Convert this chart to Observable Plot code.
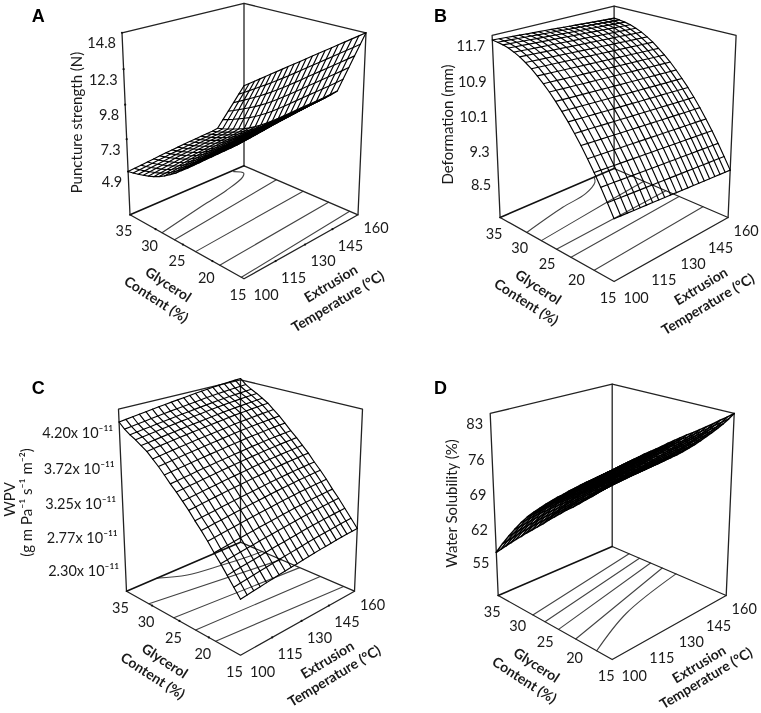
<!DOCTYPE html>
<html>
<head>
<meta charset="utf-8">
<style>html,body{margin:0;padding:0;background:#fff}svg{display:block}</style>
<script src="https://cdn.jsdelivr.net/npm/d3@7"></script>
<script src="https://cdn.jsdelivr.net/npm/@observablehq/plot@0.6"></script>
</head>
<body>
<div id="chart"></div>
<script>
// Design levels of the response surfaces
const gridGlycerol = [35,34,33,32,31,30,29,28,27,26,25,24,23,22,21,20,19,18,17,16,15];
const gridTemp = [100,103,106,109,112,115,118,121,124,127,130,133,136,139,142,145,148,151,154,157,160];
const glyTicks = [35,30,25,20,15];
const tempTicks = [100,115,130,145,160];

// Surface readings: response along glycerol at 100 °C, change along temperature, temperature effect gain per glycerol level
const punctureByGly = [4.9,4.98,5.08,5.2,5.33,5.48,5.68,5.92,6.2,6.5,6.85,7.2,7.57,7.95,8.33,8.7,9.07,9.44,9.81,10.2,10.6];
const punctureByTemp = [0,.06,.12,.18,.24,.3,.36,.41,.46,.51,.56,.6,.64,.68,.72,.8,1.4,2,2.6,3.2,3.8];
const punctureGain = [.895,.959,1.018,1.072,1.124,1.17,1.203,1.225,1.237,1.243,1.237,1.23,1.218,1.204,1.189,1.178,1.166,1.154,1.142,1.125,1.105];
const punctureTicks = [14.8,12.3,9.8,7.3,4.9];

const deformByGly = [11.6,11.59,11.57,11.54,11.49,11.43,11.35,11.26,11.15,11.03,10.9,10.75,10.59,10.42,10.23,10.03,9.81,9.58,9.33,9.07,8.8];
const deformByTemp = [0,-.01,-.02,-.03,-.04,-.05,-.06,-.07,-.08,-.09,-.1,-.11,-.12,-.13,-.14,-.15,-.16,-.17,-.18,-.19,-.2];
const deformTicks = [11.7,10.9,10.1,9.3,8.5];

const wpvByGly = [4.21,4.14,4.09,4.05,4,3.95,3.88,3.81,3.73,3.645,3.57,3.485,3.4,3.3,3.21,3.11,3,2.9,2.79,2.68,2.57];
const wpvByTemp = [0,.012,.024,.035,.047,.058,.069,.08,.09,.1,.11,.12,.13,.14,.148,.156,.163,.17,.176,.182,.187];
const wpvTicks = [4.20,3.72,3.25,2.77,2.30];
const wpvTickLabels = ["4.20x 10⁻¹¹","3.72x 10⁻¹¹","3.25x 10⁻¹¹","2.77x 10⁻¹¹","2.30x 10⁻¹¹"];

const solubilityByGly = [55,56.2,57.4,58.6,59.8,60.9,62.1,63.2,64.3,65.4,66.6,67.7,68.8,69.9,70.9,72,73.1,74.2,75.4,76.5,77.7];
const solubilityByTemp = [0,1.3,2.4,3.4,4.3,5,5.5,5.9,6.3,6.6,6.9,7.1,7.4,7.6,7.8,8,8.1,8.3,8.4,8.6,8.7];
const solubilityByTempAt15 = [0,.1,.2,.3,.4,.5,.62,.74,.86,1,1.15,1.35,1.6,1.9,2.25,2.65,3.05,3.5,4,4.6,5.3];
const solubilityTicks = [83,76,69,62,55];

// Floor contours as [glycerol, temperature] readings
const contoursA = [
  [[28.8,100],[30.4,124],[31.3,139],[32.6,152],[33.4,155],[34.7,153]],
  [[26.5,100],[28.8,160]],
  [[22.8,100],[24,160]],
  [[18.8,100],[19.7,160]],
  [[15.4,100],[16.3,160]]
];
const contoursB = [
  [[29.8,100],[31.5,121.8],[32.2,135.7],[33.8,145.4],[34.8,147.9]],
  [[27.1,100],[28.5,136.8],[29.3,160]],
  [[24.4,100],[25.3,160]],
  [[21.9,100],[23,160]],
  [[18.1,100],[19,160]]
];
const contoursC = [
  [[35,114.6],[32.9,124.6],[31.8,139.2],[31,154],[30.8,160]],
  [[30.6,100],[27.3,160]],
  [[26,100],[24,160]],
  [[22.2,100],[20.5,160]],
  [[18.9,100],[16.7,160]]
];
const contoursD = [
  [[28.3,100],[31.7,160]],
  [[26.1,100],[29.75,160]],
  [[23.7,100],[27.7,160]],
  [[20.8,100],[25.6,160]],
  [[17.4,100],[20.7,124],[23.2,160]]
];

// Shared perspective camera of the four boxes
const camera = {halfWidth:114, floorRise:64, height:165.9, alpha:.1327, beta:-.0656};

const panels = [
  {letter:"A", ox:243.5, oy:278.3, zBase:1.6, zTop:14.8, byGly:punctureByGly, byTemp:punctureByTemp, gain:punctureGain, zTicks:punctureTicks, zLabels:punctureTicks.map(String), labelDx:-6, contours:contoursA, dots:"all", meshWidth:1.15, tempTitleDy:23,
   titles:[{t:"Puncture strength (N)", x:77, y:122}]},
  {letter:"B", ox:613.6, oy:281, zBase:7.433, zTop:11.7, byGly:deformByGly, byTemp:deformByTemp, zTicks:deformTicks, zLabels:deformTicks.map(String), labelDx:-7, contours:contoursB, dots:"none", meshWidth:1.15, tempTitleDy:23,
   titles:[{t:"Deformation (mm)", x:448, y:124}]},
  {letter:"C", ox:240, oy:654.7, zBase:1.844, zTop:4.378, byGly:wpvByGly, byTemp:wpvByTemp, zTicks:wpvTicks, zLabels:wpvTickLabels, labelDx:-6, contours:contoursC, dots:"floor", meshWidth:1.15, tempTitleDy:21,
   titles:[{t:"WPV", x:10, y:499},{t:"(g m Pa⁻¹ s⁻¹ m⁻²)", x:27, y:502}]},
  {letter:"D", ox:611.7, oy:659, zBase:45.67, zTop:83, byGly:solubilityByGly, byTemp:solubilityByTemp, byTempFar:solubilityByTempAt15, zTicks:solubilityTicks, zLabels:solubilityTicks.map(String), labelDx:-7, contours:contoursD, dots:"none", meshWidth:1.5, tempTitleDy:19,
   titles:[{t:"Water Solubility (%)", x:451.7, y:503}]}
];

function project(p, g, t, z) {
  const u = (35 - g) / 20, v = (t - 100) / 60, w = (z - p.zBase) / (p.zTop - p.zBase);
  const s = v - u, d = 1 + camera.alpha * s + camera.beta * w;
  return {x: p.ox + camera.halfWidth * (u + v - 1) / d,
          y: p.oy - (camera.floorRise * (1 + s) + camera.height * w) / d};
}

const meshRows = [], boxRows = [], heavyRows = [], contourRows = [];
const dotRows = [], tickText = [], zText = [], titleText = [], floorTitles = [], letters = [];

panels.forEach((p, pi) => {
  const surf = (i, j) => {
    const effect = p.byTempFar ? p.byTemp[j] * (1 - i / 20) + p.byTempFar[j] * (i / 20)
                               : p.byTemp[j] * (p.gain ? p.gain[i] : 1);
    return p.byGly[i] + effect;
  };
  gridGlycerol.forEach((g, i) => gridTemp.forEach((t, j) => meshRows.push({id:`${pi}g${i}`, sw:p.meshWidth, ...project(p, g, t, surf(i, j))})));
  gridTemp.forEach((t, j) => gridGlycerol.forEach((g, i) => meshRows.push({id:`${pi}t${j}`, sw:p.meshWidth, ...project(p, g, t, surf(i, j))})));

  const seg = (rows, id, pts) => pts.forEach(q => rows.push({id:`${pi}${id}`, ...project(p, q[0], q[1], q[2])}));
  const b = p.zBase, c = p.zTop;
  seg(boxRows, "floor", [[35,160,b],[15,160,b],[15,100,b],[35,100,b]]);
  seg(heavyRows, "back", [[35,100,b],[35,160,b]]);
  seg(boxRows, "col", [[35,160,b],[35,160,c]]);
  seg(boxRows, "top", [[35,100,b],[35,100,c],[35,160,c],[15,160,c],[15,160,b]]);

  p.contours.forEach((k, n) => k.forEach(q => contourRows.push({id:`${pi}c${n}`, ...project(p, q[0], q[1], b)})));

  glyTicks.forEach((g, i) => {
    const a = project(p, g, 100, b);
    tickText.push({x:a.x - 6, y:a.y + 17, text:String(g)});
    if (p.dots !== "none" && i > 0 && i < 4) dotRows.push(a);
  });
  tempTicks.forEach((t, i) => {
    const a = project(p, 15, t, b);
    tickText.push({x:a.x + (i ? 18 : 22), y:a.y + (i === 4 ? 14 : 17), text:String(t)});
    if (p.dots !== "none" && i > 0 && i < 4) dotRows.push(a);
  });
  p.zTicks.forEach((z, i) => {
    const a = project(p, 35, 100, z);
    zText.push({x:a.x + p.labelDx, y:a.y + 11, text:p.zLabels[i]});
    if (p.dots === "all") dotRows.push(a);
  });

  p.titles.forEach(d => titleText.push({x:d.x, y:d.y, text:d.t}));
  floorTitles.push({x:p.ox - 76, y:p.oy + 6, text:"Glycerol", rot:33});
  floorTitles.push({x:p.ox - 88, y:p.oy + 21, text:"Content (%)", rot:33});
  floorTitles.push({x:p.ox + 87, y:p.oy + 5, text:"Extrusion", rot:-31});
  floorTitles.push({x:p.ox + 94, y:p.oy + p.tempTitleDy, text:"Temperature (°C)", rot:-31});
  letters.push({x:p.letter === "A" || p.letter === "C" ? 37.7 : 440, y:pi < 2 ? 16 : 388, text:p.letter});
});

const lineOpts = {x:"x", y:"y", z:"id"};
const font = "Lato, Carlito, 'Open Sans', sans-serif";

const chart = Plot.plot({
  width:761, height:713, margin:0,
  x:{domain:[0,761], range:[0,761], axis:null},
  y:{domain:[0,713], range:[0,713], axis:null},
  style:{background:"#fff", filter:"blur(0.35px)"},
  marks:[
    Plot.line(contourRows, {...lineOpts, stroke:"#444", strokeWidth:1.1, curve:"catmull-rom"}),
    Plot.line(boxRows, {...lineOpts, stroke:"#222", strokeWidth:1.3, curve:"linear"}),
    Plot.line(heavyRows, {...lineOpts, stroke:"#111", strokeWidth:1.6, curve:"linear"}),
    Plot.dot(dotRows, {x:"x", y:"y", r:1.1, fill:"#111"}),
    Plot.line(meshRows, {...lineOpts, stroke:"#000", strokeWidth:"sw", curve:"linear"}),
    Plot.text(tickText, {x:"x", y:"y", text:"text", fontFamily:font, fontSize:14.5, fill:"#1a1a1a"}),
    Plot.text(zText, {x:"x", y:"y", text:"text", textAnchor:"end", fontFamily:font, fontSize:14.5, fill:"#1a1a1a"}),
    Plot.text(titleText, {x:"x", y:"y", text:"text", rotate:-90, fontFamily:font, fontSize:15, fill:"#1a1a1a"}),
    Plot.text(floorTitles, {x:"x", y:"y", text:"text", rotate:"rot", fontFamily:font, fontSize:14, fontWeight:700, fill:"#1a1a1a"}),
    Plot.text(letters, {x:"x", y:"y", text:"text", fontFamily:"'Liberation Sans', Arial, sans-serif", fontWeight:700, fontSize:18, fill:"#000"})
  ]
});
document.getElementById("chart").appendChild(chart);
</script>
</body>
</html>
